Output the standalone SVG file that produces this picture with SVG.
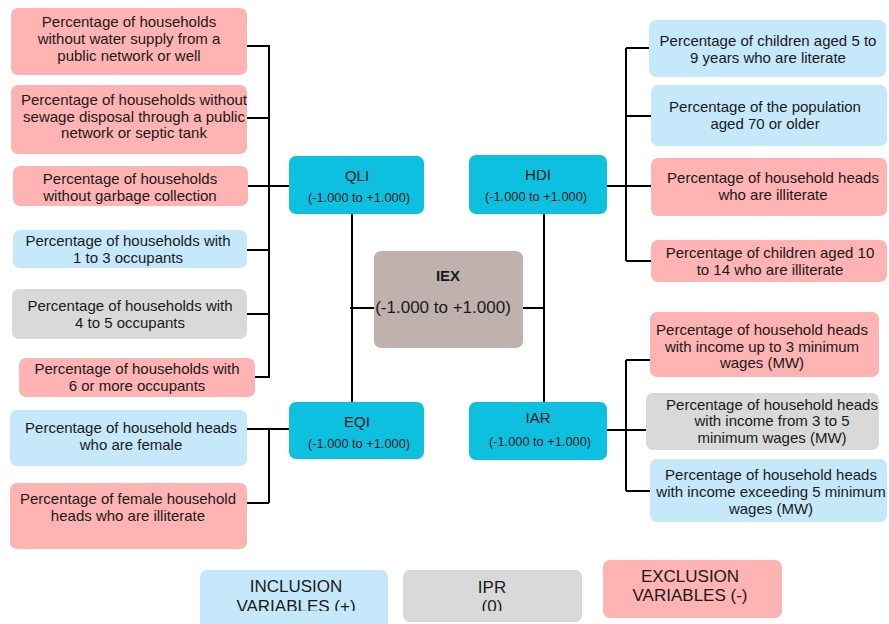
<svg xmlns="http://www.w3.org/2000/svg" width="889" height="624" viewBox="0 0 889 624">
<style>
.t{font-family:"Liberation Sans",Arial,sans-serif;font-size:15px;fill:#1a1a1a;text-anchor:middle}
.pk{fill:#ffb3b3}
.bl{fill:#c5e8fb}
.gr{fill:#d9d9d9}
.cy{fill:#0ec0e0}
.hd{font-family:"Liberation Sans",Arial,sans-serif;font-size:15px;fill:#1a1a1a;text-anchor:middle}
.rg{font-family:"Liberation Sans",Arial,sans-serif;font-size:12.8px;fill:#1a1a1a;text-anchor:middle}
.lg{font-family:"Liberation Sans",Arial,sans-serif;font-size:17px;fill:#1a1a1a;text-anchor:middle}
.c{stroke:#000;stroke-width:2;fill:none}
</style>
<defs>
<clipPath id="lgclip"><rect x="0" y="0" width="889" height="611"/></clipPath>
</defs>
<rect width="889" height="624" fill="#fff"/>
<g id="connectors">
<path class="c" d="M269 45 V378 M247 46 H269 M247 118 H269 M248 186 H289 M247 250 H269 M247 314 H269 M255 377 H269"/>
<path class="c" d="M269 429 V503 M247 429 H289 M247 503 H269"/>
<path class="c" d="M352 214 V402 M350 308 H374"/>
<path class="c" d="M544 214 V402 M523 308 H544"/>
<path class="c" d="M626 48 V261 M626 48 H649 M626 116 H651 M607 186 H651 M626 261 H651"/>
<path class="c" d="M626 360 V491 M626 360 H650 M607 430 H646 M626 491 H650"/>
</g>
<g id="l1"><rect class="pk" x="11" y="8" width="236" height="67" rx="7"/>
<text class="t" x="129" y="27">Percentage of households</text><text class="t" x="129" y="44">without water supply from a</text><text class="t" x="129" y="61">public network or well</text></g>
<g id="l2"><rect class="pk" x="11" y="85" width="236" height="69" rx="7"/>
<text class="t" x="134" y="105">Percentage of households without</text><text class="t" x="134" y="122">sewage disposal through a public</text><text class="t" x="134" y="138">network or septic tank</text></g>
<g id="l3"><rect class="pk" x="13" y="166" width="235" height="40" rx="7"/>
<text class="t" x="130" y="184">Percentage of households</text><text class="t" x="130" y="201">without garbage collection</text></g>
<g id="l4"><rect class="bl" x="13" y="230" width="234" height="38" rx="7"/>
<text class="t" x="128" y="246">Percentage of households with</text><text class="t" x="128" y="263">1 to 3 occupants</text></g>
<g id="l5"><rect class="gr" x="12" y="289" width="235" height="50" rx="7"/>
<text class="t" x="130" y="311">Percentage of households with</text><text class="t" x="130" y="328">4 to 5 occupants</text></g>
<g id="l6"><rect class="pk" x="19" y="358" width="236" height="39" rx="7"/>
<text class="t" x="137" y="374">Percentage of households with</text><text class="t" x="137" y="391">6 or more occupants</text></g>
<g id="l7"><rect class="bl" x="10" y="410" width="237" height="56" rx="7"/>
<text class="t" x="131" y="433">Percentage of household heads</text><text class="t" x="131" y="450">who are female</text></g>
<g id="l8"><rect class="pk" x="10" y="483" width="237" height="66" rx="7"/>
<text class="t" x="128" y="504">Percentage of female household</text><text class="t" x="128" y="521">heads who are illiterate</text></g>
<g id="qli"><rect class="cy" x="289" y="156" width="135" height="58" rx="7"/>
<text class="hd" x="357" y="181">QLI</text><text class="rg" x="359" y="202">(-1.000 to +1.000)</text></g>
<g id="hdi"><rect class="cy" x="469" y="155" width="138" height="59" rx="7"/>
<text class="hd" x="538" y="180">HDI</text><text class="rg" x="536" y="201">(-1.000 to +1.000)</text></g>
<g id="eqi"><rect class="cy" x="289" y="402" width="135" height="57" rx="7"/>
<text class="hd" x="357" y="427">EQI</text><text class="rg" x="359" y="448">(-1.000 to +1.000)</text></g>
<g id="iar"><rect class="cy" x="469" y="402" width="138" height="58" rx="7"/>
<text class="hd" x="538" y="423">IAR</text><text class="rg" x="540" y="446">(-1.000 to +1.000)</text></g>
<g id="iex"><rect x="374" y="251" width="149" height="97" rx="7" fill="#bfb1ad"/>
<text class="hd" x="448" y="281" font-weight="bold">IEX</text><text class="hd" x="443" y="313" style="font-size:17px">(-1.000 to +1.000)</text></g>
<g id="r1"><rect class="bl" x="649" y="20" width="237" height="57" rx="7"/>
<text class="t" x="768" y="46">Percentage of children aged 5 to</text><text class="t" x="768" y="63">9 years who are literate</text></g>
<g id="r2"><rect class="bl" x="651" y="85" width="236" height="61" rx="7"/>
<text class="t" x="765" y="112">Percentage of the population</text><text class="t" x="765" y="129">aged 70 or older</text></g>
<g id="r3"><rect class="pk" x="651" y="158" width="236" height="58" rx="7"/>
<text class="t" x="773" y="183">Percentage of household heads</text><text class="t" x="773" y="200">who are illiterate</text></g>
<g id="r4"><rect class="pk" x="651" y="240" width="236" height="42" rx="7"/>
<text class="t" x="770" y="258">Percentage of children aged 10</text><text class="t" x="770" y="275">to 14 who are illiterate</text></g>
<g id="r5"><rect class="pk" x="650" y="312" width="229" height="65" rx="7"/>
<text class="t" x="762" y="335">Percentage of household heads</text><text class="t" x="762" y="352">with income up to 3 minimum</text><text class="t" x="762" y="368">wages (MW)</text></g>
<g id="r6"><rect class="gr" x="646" y="393" width="233" height="57" rx="7"/>
<text class="t" x="772" y="410">Percentage of household heads</text><text class="t" x="772" y="426">with income from 3 to 5</text><text class="t" x="772" y="443">minimum wages (MW)</text></g>
<g id="r7"><rect class="bl" x="650" y="459" width="237" height="63" rx="7"/>
<text class="t" x="771" y="480">Percentage of household heads</text><text class="t" x="771" y="497">with income exceeding 5 minimum</text><text class="t" x="771" y="514">wages (MW)</text></g>
<g id="leg1"><rect class="bl" x="200" y="570" width="188" height="60" rx="7"/>
<g clip-path="url(#lgclip)"><text class="lg" x="296" y="592">INCLUSION</text><text class="lg" x="296" y="612">VARIABLES (+)</text></g></g>
<g id="leg2"><rect class="gr" x="403" y="570" width="179" height="52" rx="7"/>
<g clip-path="url(#lgclip)"><text class="lg" x="492" y="593">IPR</text><text class="lg" x="492" y="612">(0)</text></g></g>
<g id="leg3"><rect class="pk" x="603" y="560" width="179" height="58" rx="7"/>
<text class="lg" x="690" y="582">EXCLUSION</text><text class="lg" x="690" y="601">VARIABLES (-)</text></g>
</svg>
